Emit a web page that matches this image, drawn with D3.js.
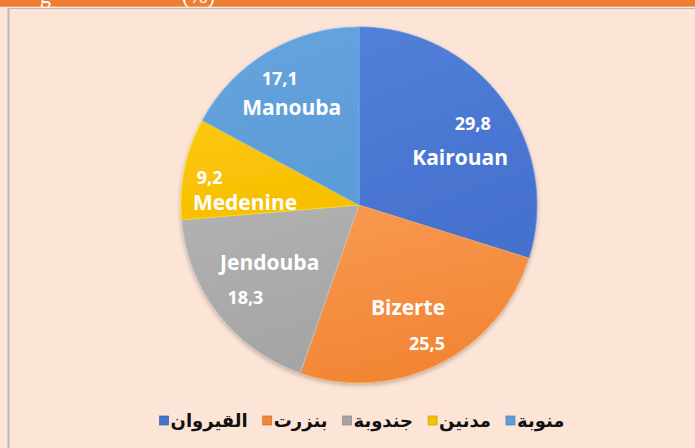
<!DOCTYPE html>
<html>
<head>
<meta charset="utf-8">
<script src="https://cdn.jsdelivr.net/npm/d3@7"></script>
<style>
  html, body { margin: 0; padding: 0; background: #fce4d6; }
  svg { display: block; }
</style>
</head>
<body>
<div id="chart"></div>
<script>
// --- DATA ---
const regions = ["Kairouan", "Bizerte", "Jendouba", "Medenine", "Manouba"];
const regionsAr = ["القيروان", "بنزرت", "جندوبة", "مدنين", "منوبة"];
const shares = [29.8, 25.5, 18.3, 9.2, 17.1];
const valueLabels = ["29,8", "25,5", "18,3", "9,2", "17,1"];

// --- STYLE ---
const baseColors = ["#4571cf", "#f28534", "#a5a5a5", "#f7bf00", "#5c9cd8"];
const lightColors = ["#5280d8", "#f89a52", "#b2b2b2", "#fcc812", "#67a4dd"];
// label placement as polar (degrees from top, radius) for name and value
const namePos = [[64.6, 112], [154.3, 113], [237.4, 106], [271.5, 114], [325.6, 119]];
const valuePos = [[54.3, 140], [153.8, 154], [231.1, 146], [280.6, 152], [328.1, 150]];

const width = 695, height = 448;
const cx = 359, cy = 205, radius = 178;

const svg = d3.select("#chart").append("svg")
    .attr("width", width)
    .attr("height", height);

// frame: orange title strip (title runs off the top) and grey border
svg.append("rect").attr("x", 0).attr("y", 0).attr("width", width).attr("height", 6).attr("fill", "#ee7f32");
svg.append("rect").attr("x", 0).attr("y", 6).attr("width", width).attr("height", 1).attr("fill", "#f5a26a");
svg.append("text")
    .attr("x", 40).attr("y", 3)
    .attr("fill", "#fff")
    .attr("font-family", "Liberation Serif, serif")
    .attr("font-size", 22)
    .text("g");
svg.append("text")
    .attr("x", 182).attr("y", 3)
    .attr("fill", "#fff")
    .attr("font-family", "Liberation Serif, serif")
    .attr("font-size", 22)
    .text("(%)");
svg.append("line").attr("x1", 8).attr("x2", width).attr("y1", 8.5).attr("y2", 8.5)
    .attr("stroke", "#b9b9b9").attr("stroke-width", 1);
svg.append("line").attr("x1", 8.5).attr("x2", 8.5).attr("y1", 8).attr("y2", height)
    .attr("stroke", "#b9b9b9").attr("stroke-width", 2);

// gradients per slice
const defs = svg.append("defs");
regions.forEach((r, i) => {
    const g = defs.append("linearGradient")
        .attr("id", `grad-${i}`)
        .attr("x1", "0%").attr("y1", "0%")
        .attr("x2", "30%").attr("y2", "100%");
    g.append("stop").attr("offset", "0%").attr("stop-color", lightColors[i]);
    g.append("stop").attr("offset", "100%").attr("stop-color", baseColors[i]);
});
const shadow = defs.append("filter").attr("id", "shadow")
    .attr("x", "-10%").attr("y", "-10%").attr("width", "120%").attr("height", "125%");
shadow.append("feDropShadow").attr("dx", 0).attr("dy", 2).attr("stdDeviation", 2)
    .attr("flood-color", "#000").attr("flood-opacity", 0.25);

// --- PIE ---
const pie = d3.pie().sort(null).value(d => d)(shares);
const arc = d3.arc().innerRadius(0).outerRadius(radius);

const g = svg.append("g").attr("transform", `translate(${cx},${cy})`);

g.append("g").attr("filter", "url(#shadow)")
    .selectAll("path")
    .data(pie)
    .join("path")
    .attr("d", arc)
    .attr("fill", (d, i) => `url(#grad-${i})`)
    .attr("stroke", (d, i) => d3.color(lightColors[i]).brighter(0.3))
    .attr("stroke-width", 0.8);

// --- LABELS ---
const polar = p => {
    const a = p[0] * Math.PI / 180;
    return [p[1] * Math.sin(a), -p[1] * Math.cos(a)];
};

g.selectAll("text.name")
    .data(pie)
    .join("text")
    .attr("class", "name")
    .attr("x", (d, i) => polar(namePos[i])[0])
    .attr("y", (d, i) => polar(namePos[i])[1])
    .attr("text-anchor", "middle")
    .attr("dominant-baseline", "central")
    .attr("font-family", "Open Sans, DejaVu Sans, sans-serif")
    .attr("font-weight", "bold")
    .attr("font-size", 21)
    .attr("fill", "#fff")
    .text((d, i) => regions[i]);

g.selectAll("text.value")
    .data(pie)
    .join("text")
    .attr("class", "value")
    .attr("x", (d, i) => polar(valuePos[i])[0])
    .attr("y", (d, i) => polar(valuePos[i])[1])
    .attr("text-anchor", "middle")
    .attr("dominant-baseline", "central")
    .attr("font-family", "Open Sans, DejaVu Sans, sans-serif")
    .attr("font-weight", "bold")
    .attr("font-size", 18)
    .attr("fill", "#fff")
    .text((d, i) => valueLabels[i]);

// --- LEGEND ---
const legend = svg.append("g").attr("class", "legend");
const items = legend.selectAll("g")
    .data(regions)
    .join("g");

items.append("rect")
    .attr("x", 0).attr("y", -5)
    .attr("width", 9).attr("height", 9)
    .attr("fill", (d, i) => baseColors[i])
    .attr("stroke", (d, i) => d3.color(baseColors[i]).darker(0.5))
    .attr("stroke-width", 0.7);

items.append("text")
    .attr("x", 11)
    .attr("y", 6)
    .attr("font-family", "DejaVu Sans, Noto Sans, sans-serif")
    .attr("font-weight", "bold")
    .attr("font-size", 18)
    .attr("fill", "#111")
    .text((d, i) => regionsAr[i]);

// flow layout, centred under the pie
const gap = 15;
let xPos = 0;
const offsets = [];
items.each(function() {
    offsets.push(xPos);
    const w = d3.select(this).select("text").node().getComputedTextLength();
    xPos += 11 + w + gap;
});
const total = xPos - gap;
const start = 362 - total / 2;
items.attr("transform", (d, i) => `translate(${start + offsets[i]},421)`);
</script>
</body>
</html>
